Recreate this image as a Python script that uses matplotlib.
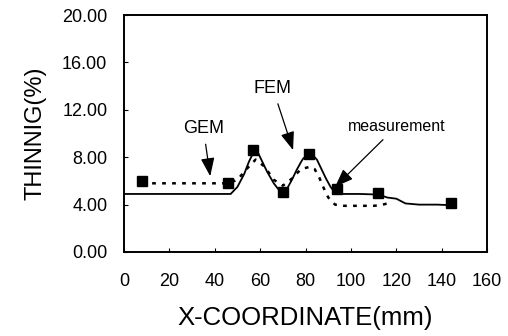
import matplotlib.pyplot as plt

# measured thinning points
meas_x = [8, 46, 57, 70, 81.5, 94, 112, 144]
meas_y = [6.0, 5.8, 8.6, 5.05, 8.3, 5.3, 5.0, 4.1]

# FEM (solid)
fem_x = [0, 20, 47, 50, 53, 55, 57, 59, 61, 63, 66, 68, 70, 72, 74, 76, 78, 79, 81, 83, 85, 87, 89, 91, 93, 96, 104, 112, 116, 120, 124, 130, 138, 144]
fem_y = [4.9, 4.9, 4.9, 5.5, 6.6, 7.6, 8.4, 8.4, 7.6, 6.8, 5.8, 5.3, 5.0, 5.4, 6.1, 6.9, 7.6, 7.9, 8.2, 8.2, 7.8, 7.0, 6.2, 5.5, 5.0, 4.9, 4.9, 4.85, 4.6, 4.5, 4.1, 4.0, 4.0, 3.95]

# GEM (dotted)
gem_x = [8, 20, 46, 50, 54, 58, 62, 66, 70, 74, 78, 82, 84, 86, 88, 90, 93, 97, 104, 110, 113, 116]
gem_y = [5.8, 5.8, 5.8, 6.1, 7.0, 7.8, 7.2, 6.1, 5.6, 6.2, 7.0, 7.2, 7.0, 6.3, 5.4, 4.6, 4.0, 3.9, 3.9, 3.9, 3.95, 4.1]

plt.rcParams['font.family'] = ['Liberation Sans', 'DejaVu Sans']

fig = plt.figure(figsize=(5.08, 3.36), dpi=100)
ax = fig.add_axes([0.244, 0.25, 0.715, 0.705])

ax.plot(fem_x, fem_y, color='black', lw=1.3)
ax.plot(gem_x, gem_y, color='black', lw=1.8, linestyle=(0, (1.5, 2.5)))
ax.plot(meas_x, meas_y, linestyle='none', marker='s', markersize=7, color='black')

arrow = dict(arrowstyle='-|>,head_length=0.8,head_width=0.3', color='black', lw=0.9,
             mutation_scale=14, shrinkA=3, shrinkB=0)
ax.annotate('GEM', xy=(38, 6.4), xytext=(35, 10.4), ha='center', va='center',
            fontsize=13, arrowprops=arrow)
ax.annotate('FEM', xy=(74.5, 8.6), xytext=(65.6, 13.8), ha='center', va='center',
            fontsize=13, arrowprops=arrow)
ax.annotate('measurement', xy=(93, 5.5), xytext=(120, 10.6), ha='center', va='center',
            fontsize=11.5, arrowprops=arrow)

ax.set_xlim(0, 160)
ax.set_ylim(0, 20)
ax.set_xticks(range(0, 161, 20))
ax.set_yticks([0, 4, 8, 12, 16, 20])
ax.set_yticklabels(['%.2f' % v for v in [0, 4, 8, 12, 16, 20]])
ax.tick_params(direction='in', labelsize=13, length=3)
ax.tick_params(axis='x', pad=15)
ax.tick_params(axis='y', pad=12)
for s in ax.spines.values():
    s.set_linewidth(1.4)

ax.set_xlabel('X-COORDINATE(mm)', fontsize=18.5, labelpad=12)
ax.set_ylabel('THINNIG(%)', fontsize=17, labelpad=11)

fig.savefig('out.png', dpi=100)
